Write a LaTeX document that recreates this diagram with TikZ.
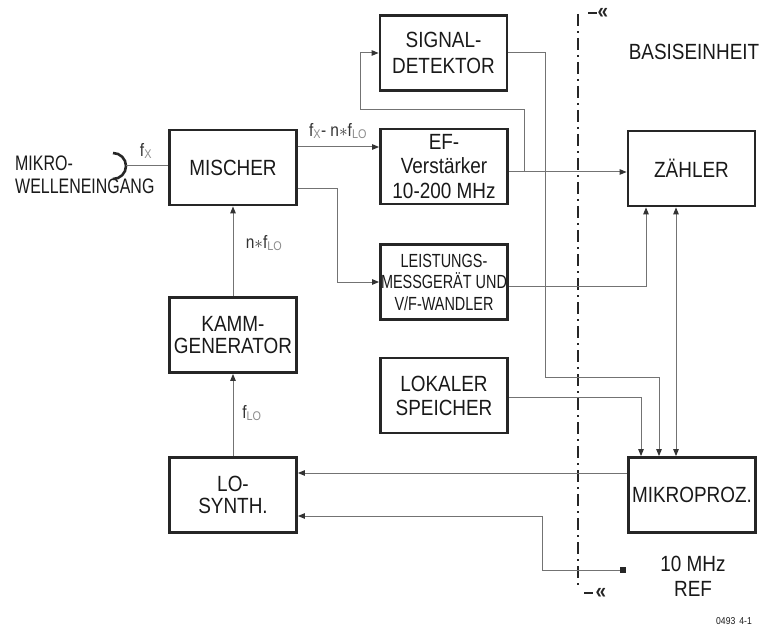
\documentclass[tikz,border=0pt]{standalone}
\usepackage{fontspec}
\setmainfont{Liberation Sans}[FakeStretch=0.86]
\newfontfamily\narrowfont{Liberation Sans}[FakeStretch=0.76]
\usetikzlibrary{arrows.meta}
\newcommand{\fsub}[1]{\textsubscript{\color{black!45}#1}}

\begin{document}
\begin{tikzpicture}[x=1pt, y=-1pt, >={Triangle[length=7pt,width=5.5pt,color=black!80]},
  font=\fontsize{22}{24}\selectfont,
  block/.style={draw=black!85, line width=2.8pt, minimum width=127pt, minimum height=75pt, inner sep=0pt, align=center, text=black!90},
  conn/.style={draw=black!55, line width=1pt},
  lbl/.style={font=\fontsize{18}{20}\selectfont, text=black!80, inner sep=1pt},
  sepline/.style={line width=2pt, black!85, dash pattern=on 12pt off 5pt on 2pt off 5pt},
  sepend/.style={font=\bfseries\fontsize{22}{22}\selectfont, text=black!85, inner sep=0pt}]
\useasboundingbox (0,0) rectangle (762,636);
% blocks
\node[block] (mischer) at (233,167.5) {MISCHER};
\node[block, font=\fontsize{22}{22}\selectfont] (kamm) at (233,335) {KAMM-\\GENERATOR};
\node[block, font=\fontsize{22}{22}\selectfont] (losynth) at (233,495) {LO-\\SYNTH.};
\node[block, font=\fontsize{22}{26}\selectfont] (signal) at (443.5,53) {SIGNAL-\\DETEKTOR};
\node[block, font=\fontsize{22}{24.5}\selectfont] (ef) at (444,166.5) {EF-\\Verstärker\\10-200 MHz};
\node[block, font=\narrowfont\fontsize{19}{21.5}\selectfont] (leist) at (444,282) {LEISTUNGS-\\MESSGERÄT UND\\V/F-WANDLER};
\node[block] (lokal) at (444,395.5) {LOKALER\\SPEICHER};
\node[block] (zaehler) at (691.5,168.5) {ZÄHLER};
\node[block] (mikro) at (692,495) {MIKROPROZ.};
% texts
\node[anchor=west, align=left, inner sep=0pt, text=black!90, font=\narrowfont\fontsize{21}{23}\selectfont] (mwtext) at (15,175)
  {MIKRO-\\WELLENEINGANG};
\node[text=black!90] (basis) at (694,52) {BASISEINHEIT};
\node[align=center, text=black!90, font=\fontsize{22}{25}\selectfont] (reftext) at (693,576) {10 MHz\\REF};
\node[font=\fontsize{10}{10}\selectfont, text=black!90] (figno) at (734,621) {0493\, 4-1};
% microwave input
\coordinate (inlet) at (126,166);
\draw[line width=2.6pt, black!85] (113,153) arc[start angle=-90, end angle=90, radius=13];
\draw[conn] (inlet) -- (inlet -| mischer.west);
\node[lbl] (fx) at (146,151) {f\fsub{X}};
% separation line
\draw[sepline] (578,14) -- (578,589);
\draw[line width=2pt, black!85] (588,13) -- (597,13);
\node[sepend] (topmark) at (603,13) {«};
\draw[line width=2pt, black!85] (584,593) -- (593,593);
\node[sepend] (botmark) at (601,593) {«};
% connectors
\draw[conn,->] (mischer.east |- 0,147) -- (ef.west |- 0,147);
\node[lbl] (fdiff) at (338,131) {f\fsub{X}- n$\ast$f\fsub{LO}};
\draw[conn,->] (mischer.east |- 0,189) -| (337,282) -- (leist.west |- 0,282);
\coordinate (efsplit) at (524,172);
\draw[conn,->] (ef.east |- efsplit) -- (zaehler.west |- efsplit);
\draw[conn,->] (efsplit) |- (360,110) |- (signal.west |- 0,53);
\draw[conn,->] (signal.east |- 0,53) -| (545,377) -| (mikro.north -| 659,0);
\draw[conn,->] (leist.east |- 0,286) -| (zaehler.south -| 646,0);
\draw[conn,->] (lokal.east |- 0,397) -| (mikro.north -| 641,0);
\draw[conn,<->] (zaehler.south -| 676,0) -- (mikro.north -| 676,0);
\draw[conn,->] (mikro.west |- 0,473) -- (losynth.east |- 0,473);
\node[fill=black!85, minimum size=6pt, inner sep=0pt] (refsq) at (623,570) {};
\draw[conn,->] (refsq.west) -| (542,516) -- (losynth.east |- 0,516);
\draw[conn,->] (kamm.north) -- (mischer.south);
\node[lbl] (nflo) at (264,243) {n$\ast$f\fsub{LO}};
\draw[conn,->] (losynth.north) -- (kamm.south);
\node[lbl] (flo) at (252,413) {f\fsub{LO}};
\end{tikzpicture}
\end{document}
